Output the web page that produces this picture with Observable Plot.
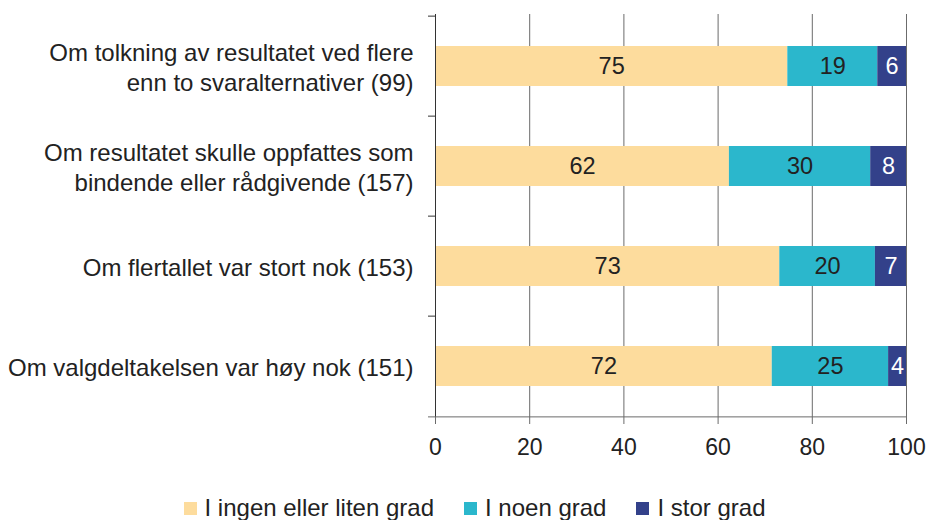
<!DOCTYPE html>
<html>
<head>
<meta charset="utf-8">
<script src="https://cdn.jsdelivr.net/npm/d3@7"></script>
<script src="https://cdn.jsdelivr.net/npm/@observablehq/plot@0.6"></script>
<style>
  html, body { margin: 0; padding: 0; background: #fff; }
  body { width: 929px; height: 520px; overflow: hidden; font-family: "Liberation Sans", Arial, sans-serif; }
  #legend { display: flex; justify-content: center; align-items: center; height: 30px; margin-top: 3px; font-size: 24px; color: #222; padding-left: 20px; }
  #legend .item { display: flex; align-items: center; margin: 0 15px; }
  #legend .sw { width: 13px; height: 13px; margin-right: 8px; }
</style>
</head>
<body>
<div id="chart"></div>
<div id="legend"></div>
<script>
const categories = [
  "Om tolkning av resultatet ved flere\nenn to svaralternativer (99)",
  "Om resultatet skulle oppfattes som\nbindende eller rådgivende (157)",
  "Om flertallet var stort nok (153)",
  "Om valgdeltakelsen var høy nok (151)"
];
const series = ["I ingen eller liten grad", "I noen grad", "I stor grad"];
const ingenEllerLiten = [74.8, 62.4, 73.1, 71.5];
const noen = [19.1, 30.0, 20.3, 24.7];
const stor = [6.1, 7.6, 6.6, 3.8];
const xTicks = [0, 20, 40, 60, 80, 100];
const colors = ["#FDDC9D", "#2BB7CC", "#33418A"];
const labelColors = ["#222222", "#222222", "#ffffff"];

const seriesValues = [ingenEllerLiten, noen, stor];
const data = [];
categories.forEach((c, i) => {
  series.forEach((s, j) => {
    data.push({category: c, series: s, value: seriesValues[j][i], label: String(Math.round(seriesValues[j][i])), textColor: labelColors[j]});
  });
});

const W = 929, H = 490;
const mTop = 14, mBottom = 73, mLeft = 435, mRight = 23;
const step = (H - mTop - mBottom) / categories.length;
const tickUnits = 7 * 100 / (W - mLeft - mRight);

const chart = Plot.plot({
  width: W,
  height: H,
  marginTop: mTop,
  marginBottom: mBottom,
  marginLeft: mLeft,
  marginRight: mRight,
  style: {fontFamily: "'Liberation Sans', Arial, sans-serif", fontSize: "23px", color: "#222", background: "#fff"},
  x: {domain: [0, 100], ticks: xTicks},
  y: {domain: categories, paddingInner: 0.6, paddingOuter: 0.3},
  color: {domain: series, range: colors},
  marks: [
    Plot.gridX(xTicks.filter(d => d > 0), {stroke: "#6b6b6b", strokeOpacity: 1, strokeWidth: 1}),
    Plot.barX(data, Plot.stackX({x: "value", y: "category", fill: "series", order: series})),
    Plot.text(data, Plot.stackX({x: "value", y: "category", z: "series", order: series, text: "label", fill: "textColor", fontSize: 23.5})),
    Plot.ruleX([0], {stroke: "#333", strokeWidth: 1}),
    Plot.ruleY(categories, {y: d => d, dy: -step / 2, x1: -tickUnits, x2: 0, stroke: "#333", clip: false}),
    Plot.ruleY(categories.slice(-1), {y: d => d, dy: step / 2, x1: -tickUnits, x2: 100, stroke: "#6b6b6b", clip: false}),
    Plot.axisY({tickSize: 0, tickPadding: 22, fontSize: 24, lineHeight: 1.25, label: null}),
    Plot.axisX(xTicks, {tickSize: 7, tickPadding: 14, fontSize: 23, label: null, stroke: "#6b6b6b"})
  ]
});
document.getElementById("chart").appendChild(chart);

const legend = document.getElementById("legend");
series.forEach((s, j) => {
  const item = document.createElement("div");
  item.className = "item";
  const sw = document.createElement("div");
  sw.className = "sw";
  sw.style.background = colors[j];
  const t = document.createElement("span");
  t.textContent = s;
  item.appendChild(sw);
  item.appendChild(t);
  legend.appendChild(item);
});
</script>
</body>
</html>
